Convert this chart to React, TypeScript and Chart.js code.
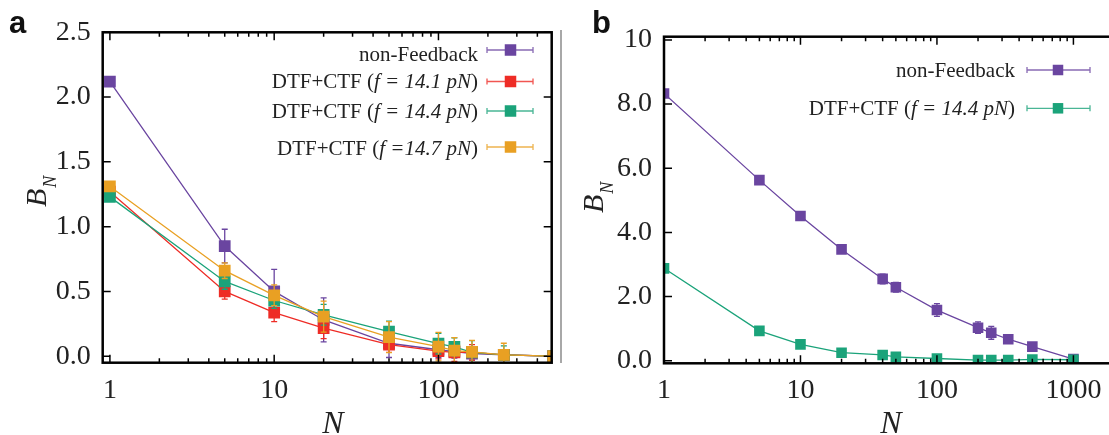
import React, { useEffect, useRef } from "react";
import { Chart, registerables } from "chart.js";
Chart.register(...registerables);

const SERIF = "'Liberation Serif', 'Times New Roman', serif";
const SANS = "'Liberation Sans', Arial, sans-serif";

const PURPLE = "#6a45a0";
const RED = "#ee2c26";
const GREEN = "#1ba37a";
const ORANGE = "#e9a023";
const TEXT = "#222222";

// ---------- Panel a data ----------
const nA = [1, 5, 10, 20, 50, 100, 125, 160, 250, 500];
const nonFeedbackA = [2.12, 0.85, 0.5, 0.28, 0.1, 0.05, 0.035, 0.02, 0.01, 0.0];
const nonFeedbackAErr = [0.02, 0.13, 0.17, 0.17, 0.11, 0.06, 0.05, 0.05, 0.03, 0.0];
const f141A = [1.27, 0.5, 0.337, 0.216, 0.09, 0.04, 0.03, 0.03, 0.01, 0.0];
const f141AErr = [0.02, 0.06, 0.07, 0.08, 0.06, 0.06, 0.07, 0.06, 0.03, 0.0];
const f144A = [1.23, 0.577, 0.43, 0.32, 0.19, 0.097, 0.072, 0.03, 0.01, 0.0];
const f144AErr = [0.02, 0.06, 0.06, 0.08, 0.08, 0.08, 0.07, 0.09, 0.07, 0.0];
const f147A = [1.31, 0.66, 0.47, 0.306, 0.147, 0.074, 0.043, 0.033, 0.01, 0.0];
const f147AErr = [0.02, 0.06, 0.08, 0.12, 0.12, 0.11, 0.1, 0.09, 0.09, 0.0];
const xTicksA = [1, 10, 100];
const yTicksA = [0, 0.5, 1.0, 1.5, 2.0, 2.5];

// ---------- Panel b data ----------
const nB = [1, 5, 10, 20, 40, 50, 100, 200, 250, 333, 500, 1000];
const nonFeedbackB = [8.33, 5.63, 4.51, 3.47, 2.55, 2.29, 1.58, 1.03, 0.87, 0.67, 0.44, 0.05];
const nonFeedbackBErr = [0.05, 0.05, 0.06, 0.06, 0.15, 0.15, 0.2, 0.18, 0.2, 0.12, 0.08, 0.03];
const f144B = [2.88, 0.93, 0.51, 0.25, 0.18, 0.12, 0.07, 0.02, 0.02, 0.02, 0.04, 0.03];
const f144BErr = [0.03, 0.03, 0.03, 0.02, 0.02, 0.02, 0.02, 0.02, 0.02, 0.02, 0.02, 0.02];
const xTicksB = [1, 10, 100, 1000];
const yTicksB = [0, 2, 4, 6, 8, 10];

type Part = { t: string; i?: boolean };
type LegendRow = { parts: Part[]; color: string; base: number; my: number };

function mkDataset(xs: number[], ys: number[], errs: number[], color: string, order: number, radius: number) {
  return {
    data: xs.map((x, i) => ({ x, y: ys[i] })),
    errors: errs,
    borderColor: color,
    backgroundColor: color,
    borderWidth: 1.3,
    pointStyle: "rect",
    pointRadius: radius,
    pointBorderWidth: 0,
    pointBackgroundColor: color,
    pointBorderColor: color,
    tension: 0,
    clip: 0,
    order,
  } as any;
}

const errorBarPlugin = {
  id: "errbars",
  beforeDatasetDraw(chart: any, args: any) {
    const ds = chart.data.datasets[args.index];
    const errs: number[] = ds.errors;
    if (!errs) return;
    const ctx = chart.ctx;
    const ys = chart.scales.y;
    const area = chart.chartArea;
    ctx.save();
    ctx.beginPath();
    ctx.rect(area.left, area.top, area.right - area.left, area.bottom - area.top);
    ctx.clip();
    ctx.strokeStyle = ds.borderColor;
    ctx.lineWidth = 1.3;
    args.meta.data.forEach((el: any, i: number) => {
      const e = errs[i];
      if (!e) return;
      const v = ds.data[i].y;
      const y0 = ys.getPixelForValue(v - e);
      const y1 = ys.getPixelForValue(v + e);
      ctx.beginPath();
      ctx.moveTo(el.x, y0);
      ctx.lineTo(el.x, y1);
      ctx.moveTo(el.x - 3, y0);
      ctx.lineTo(el.x + 3, y0);
      ctx.moveTo(el.x - 3, y1);
      ctx.lineTo(el.x + 3, y1);
      ctx.stroke();
    });
    ctx.restore();
  },
};

function withAlpha(hex: string, a: number) {
  const r = parseInt(hex.slice(1, 3), 16);
  const g = parseInt(hex.slice(3, 5), 16);
  const b = parseInt(hex.slice(5, 7), 16);
  return `rgba(${r},${g},${b},${a})`;
}

function drawLegend(ctx: CanvasRenderingContext2D, rows: LegendRow[], rightX: number, lx0: number, lx1: number, mx: number, size: number, fs: number) {
  rows.forEach((r) => {
    let total = 0;
    const widths = r.parts.map((p) => {
      ctx.font = `${p.i ? "italic " : ""}${fs}px ${SERIF}`;
      const w = ctx.measureText(p.t).width;
      total += w;
      return w;
    });
    let x = rightX - total;
    ctx.fillStyle = TEXT;
    ctx.textBaseline = "alphabetic";
    ctx.textAlign = "left";
    r.parts.forEach((p, k) => {
      ctx.font = `${p.i ? "italic " : ""}${fs}px ${SERIF}`;
      ctx.fillText(p.t, x, r.base);
      x += widths[k];
    });
    ctx.strokeStyle = withAlpha(r.color, 0.8);
    ctx.lineWidth = 1.3;
    ctx.beginPath();
    ctx.moveTo(lx0, r.my);
    ctx.lineTo(lx1, r.my);
    ctx.moveTo(lx0, r.my - 3);
    ctx.lineTo(lx0, r.my + 3);
    ctx.moveTo(lx1, r.my - 3);
    ctx.lineTo(lx1, r.my + 3);
    ctx.stroke();
    ctx.fillStyle = r.color;
    ctx.fillRect(mx - size / 2, r.my - size / 2, size, size);
  });
}

function drawBN(ctx: CanvasRenderingContext2D, baseX: number, bottomY: number) {
  ctx.save();
  ctx.translate(baseX, bottomY);
  ctx.rotate(-Math.PI / 2);
  ctx.fillStyle = TEXT;
  ctx.textAlign = "left";
  ctx.textBaseline = "alphabetic";
  ctx.font = `italic 30px ${SERIF}`;
  ctx.fillText("B", 0, 0);
  const w = ctx.measureText("B").width;
  ctx.font = `italic 18px ${SERIF}`;
  ctx.fillText("N", w + 1, 10);
  ctx.restore();
}

function framePlugin(cfg: {
  xMajor: number[];
  yMajor: number[];
  drawRight: boolean;
  extra: (ctx: CanvasRenderingContext2D) => void;
}) {
  return {
    id: "frame",
    afterDraw(chart: any) {
      const ctx: CanvasRenderingContext2D = chart.ctx;
      const a = chart.chartArea;
      const xs = chart.scales.x;
      const ys = chart.scales.y;
      ctx.save();
      ctx.strokeStyle = "#000";
      ctx.lineWidth = 1.5;
      ctx.beginPath();
      // x ticks
      const xmin = xs.min;
      const xmax = xs.max;
      cfg.xMajor.forEach((d) => {
        for (let k = 1; k <= 9; k++) {
          const v = d * k;
          if (v < xmin || v > xmax) continue;
          const px = xs.getPixelForValue(v);
          const len = k === 1 ? 8 : 4.5;
          ctx.moveTo(px, a.bottom);
          ctx.lineTo(px, a.bottom - len);
          ctx.moveTo(px, a.top);
          ctx.lineTo(px, a.top + len);
        }
      });
      cfg.yMajor.forEach((v) => {
        const py = ys.getPixelForValue(v);
        ctx.moveTo(a.left, py);
        ctx.lineTo(a.left + 8, py);
        if (cfg.drawRight) {
          ctx.moveTo(a.right, py);
          ctx.lineTo(a.right - 8, py);
        }
      });
      ctx.stroke();
      ctx.lineWidth = 2.5;
      ctx.strokeRect(a.left, a.top, a.right - a.left, a.bottom - a.top);
      ctx.restore();
      ctx.save();
      cfg.extra(ctx);
      ctx.restore();
    },
  };
}

function baseOptions(
  xmin: number, xmax: number, ymin: number, ymax: number,
  xTicks: number[], yTicks: number[], yFmt: (v: number) => string,
  yWidth: number, xHeight: number, padTop: number, padRight: number
) {
  return {
    responsive: false,
    animation: false,
    devicePixelRatio: 1,
    layout: { padding: { top: padTop, right: padRight, left: 0, bottom: 0 } },
    plugins: { legend: { display: false }, tooltip: { enabled: false } },
    events: [],
    scales: {
      x: {
        type: "logarithmic",
        min: xmin,
        max: xmax,
        grid: { display: false, drawTicks: false },
        border: { display: false },
        afterBuildTicks: (ax: any) => {
          ax.ticks = xTicks.map((v) => ({ value: v, major: true }));
        },
        afterFit: (ax: any) => {
          ax.height = xHeight;
        },
        ticks: {
          autoSkip: false,
          maxRotation: 0,
          minRotation: 0,
          padding: 11,
          color: TEXT,
          font: { family: SERIF, size: 28 },
          callback: (v: any) => String(v),
        },
      },
      y: {
        type: "linear",
        min: ymin,
        max: ymax,
        grid: { display: false, drawTicks: false },
        border: { display: false },
        afterBuildTicks: (ax: any) => {
          ax.ticks = yTicks.map((v) => ({ value: v }));
        },
        afterFit: (ax: any) => {
          ax.width = yWidth;
        },
        ticks: {
          padding: 12,
          color: TEXT,
          font: { family: SERIF, size: 28 },
          callback: (v: any) => yFmt(Number(v)),
        },
      },
    },
  } as any;
}

function makeChartA(canvas: HTMLCanvasElement) {
  const rows: LegendRow[] = [
    { parts: [{ t: "non-Feedback" }], color: PURPLE, base: 61, my: 50 },
    { parts: [{ t: "DTF+CTF (" }, { t: "f = 14.1 pN", i: true }, { t: ")" }], color: RED, base: 88, my: 81.5 },
    { parts: [{ t: "DTF+CTF (" }, { t: "f = 14.4 pN", i: true }, { t: ")" }], color: GREEN, base: 118, my: 111 },
    { parts: [{ t: "DTF+CTF (" }, { t: "f =14.7 pN", i: true }, { t: ")" }], color: ORANGE, base: 155, my: 147 },
  ];
  return new Chart(canvas, {
    type: "line",
    data: {
      datasets: [
        mkDataset(nA, nonFeedbackA, nonFeedbackAErr, PURPLE, 4, 8.3),
        mkDataset(nA, f141A, f141AErr, RED, 3, 8.3),
        mkDataset(nA, f144A, f144AErr, GREEN, 2, 8.3),
        mkDataset(nA, f147A, f147AErr, ORANGE, 1, 8.3),
      ],
    },
    options: baseOptions(0.904, 489, -0.05, 2.5, xTicksA, yTicksA, (v) => v.toFixed(1), 102.7, 72.3, 32.3, 1.7),
    plugins: [
      errorBarPlugin,
      framePlugin({
        xMajor: [1, 10, 100],
        yMajor: yTicksA,
        drawRight: true,
        extra: (ctx) => {
          drawLegend(ctx, rows, 478, 487, 533, 510.5, 11.5, 21);
          ctx.fillStyle = TEXT;
          ctx.font = `italic 32px ${SERIF}`;
          ctx.textAlign = "center";
          ctx.textBaseline = "alphabetic";
          ctx.fillText("N", 333, 433);
          drawBN(ctx, 46, 207);
          ctx.fillStyle = "#111";
          ctx.font = `bold 31px ${SANS}`;
          ctx.textAlign = "left";
          ctx.fillText("a", 9, 33);
        },
      }),
    ],
  } as any);
}

function makeChartB(canvas: HTMLCanvasElement) {
  const rows: LegendRow[] = [
    { parts: [{ t: "non-Feedback" }], color: PURPLE, base: 77, my: 70 },
    { parts: [{ t: "DTF+CTF (" }, { t: "f = 14.4 pN", i: true }, { t: ")" }], color: GREEN, base: 115, my: 108.3 },
  ];
  const off = 562;
  return new Chart(canvas, {
    type: "line",
    data: {
      datasets: [
        mkDataset(nB, nonFeedbackB, nonFeedbackBErr, PURPLE, 2, 7.5),
        mkDataset(nB, f144B, f144BErr, GREEN, 1, 7.5),
      ],
    },
    options: baseOptions(1, 2000, -0.08, 10.1, xTicksB, yTicksB, (v) => (v === 10 ? "10" : v.toFixed(1)), 102, 71.7, 36.7, 4),
    plugins: [
      errorBarPlugin,
      framePlugin({
        xMajor: [1, 10, 100, 1000],
        yMajor: yTicksB,
        drawRight: false,
        extra: (ctx) => {
          drawLegend(ctx, rows, 1015 - off, 1027 - off, 1090 - off, 1058 - off, 10.5, 21);
          ctx.fillStyle = TEXT;
          ctx.font = `italic 32px ${SERIF}`;
          ctx.textAlign = "center";
          ctx.textBaseline = "alphabetic";
          ctx.fillText("N", 891 - off, 433);
          drawBN(ctx, 603 - off, 213);
          ctx.fillStyle = "#111";
          ctx.font = `bold 31px ${SANS}`;
          ctx.textAlign = "left";
          ctx.fillText("b", 592 - off, 33);
        },
      }),
    ],
  } as any);
}

export default function App() {
  const refA = useRef<HTMLCanvasElement>(null);
  const refB = useRef<HTMLCanvasElement>(null);
  useEffect(() => {
    const a = makeChartA(refA.current!);
    const b = makeChartB(refB.current!);
    return () => {
      a.destroy();
      b.destroy();
    };
  }, []);
  return (
    <div style={{ position: "fixed", left: 0, top: 0, width: 1109, height: 435, overflow: "hidden", background: "#fff" }}>
      <canvas ref={refA} width={560} height={435} style={{ position: "absolute", left: 0, top: 0, width: 560, height: 435 }} />
      <div style={{ position: "absolute", left: 560, top: 30, width: 1.5, height: 333, background: "#a8a8a8" }} />
      <canvas ref={refB} width={560} height={435} style={{ position: "absolute", left: 562, top: 0, width: 560, height: 435 }} />
    </div>
  );
}
